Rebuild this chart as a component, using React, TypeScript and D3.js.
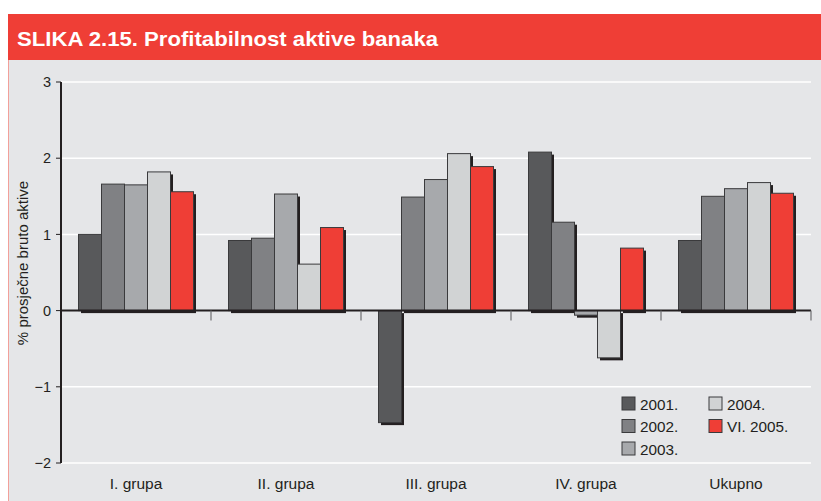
import React from "react";
import * as d3 from "d3";

const title = "SLIKA 2.15. Profitabilnost aktive banaka";
const yAxisTitle = "% prosječne bruto aktive";
const categories = ["I. grupa", "II. grupa", "III. grupa", "IV. grupa", "Ukupno"];
const seriesNames = ["2001.", "2002.", "2003.", "2004.", "VI. 2005."];
const v2001 = [1.0, 0.92, -1.47, 2.08, 0.92];
const v2002 = [1.66, 0.95, 1.49, 1.16, 1.5];
const v2003 = [1.65, 1.53, 1.72, -0.06, 1.6];
const v2004 = [1.82, 0.61, 2.06, -0.62, 1.68];
const v2005 = [1.56, 1.09, 1.89, 0.82, 1.54];
const yTicks = [3, 2, 1, 0, -1, -2];

const seriesValues = [v2001, v2002, v2003, v2004, v2005];
const colors = ["#58595b", "#808184", "#a7a9ac", "#d1d3d4", "#ef3e36"];

export default function App() {
  const W = 821, H = 501;
  const plotLeft = 61, plotRight = 811;
  const y = d3.scaleLinear().domain([-2, 3]).range([463, 82]);
  const x0 = d3.scaleBand().domain(categories).range([plotLeft, plotRight]).paddingInner(0).paddingOuter(0);
  const barW = 23;
  const groupInner = barW * seriesNames.length;
  const x1 = d3.scaleBand().domain(seriesNames).range([0, groupInner]);
  const fmt = (t: number) => (t < 0 ? "\u2212" + Math.abs(t) : String(t));
  const font = "'Liberation Sans', Arial, Helvetica, sans-serif";
  const y0 = y(0);

  const legendItems = [
    { i: 0, x: 622, y: 397 },
    { i: 1, x: 622, y: 419.5 },
    { i: 2, x: 622, y: 442 },
    { i: 3, x: 709, y: 397 },
    { i: 4, x: 709, y: 419.5 },
  ];

  return (
    <svg width={W} height={H} style={{ position: "absolute", left: 0, top: 0 }} fontFamily={font}>
      <rect x={0} y={0} width={W} height={H} fill="#ffffff" />
      {/* header */}
      <rect x={8} y={14} width={W - 8} height={46} fill="#ef3e36" />
      <text x={17} y={46} fill="#ffffff" fontSize={21} fontWeight="bold" textLength={421} lengthAdjust="spacingAndGlyphs">
        {title}
      </text>
      {/* panel */}
      <rect x={8} y={60} width={W - 8} height={H - 60} fill="#e5e6e8" />
      <line x1={8.5} x2={8.5} y1={60} y2={H} stroke="#f2a09a" strokeWidth={1} />

      {/* gridlines */}
      {yTicks.filter((t) => t !== 0).map((t) => (
        <line key={"g" + t} x1={plotLeft} x2={plotRight} y1={y(t)} y2={y(t)} stroke="#ffffff" strokeWidth={1.5} />
      ))}

      {/* y ticks & labels */}
      {yTicks.map((t) => (
        <g key={"t" + t}>
          <line x1={56} x2={plotLeft} y1={y(t)} y2={y(t)} stroke="#231f20" strokeWidth={1} />
          <text x={51} y={y(t)} dy="0.36em" textAnchor="end" fontSize={14.5} fill="#231f20">
            {fmt(t)}
          </text>
        </g>
      ))}

      {/* bars */}
      {categories.map((c, ci) => {
        const gx = (x0(c) as number) + (x0.bandwidth() - groupInner) / 2;
        return (
          <g key={c}>
            {seriesNames.map((s, si) => {
              const v = seriesValues[si][ci];
              const bx = gx + (x1(s) as number);
              const top = Math.min(y(v), y0);
              const h = Math.abs(y(v) - y0);
              return (
                <rect key={"sh" + s} x={bx + 2.5} y={top + 2.5} width={barW} height={h} fill="#231f20" />
              );
            })}
            {seriesNames.map((s, si) => {
              const v = seriesValues[si][ci];
              const bx = gx + (x1(s) as number);
              const top = Math.min(y(v), y0);
              const h = Math.abs(y(v) - y0);
              return (
                <rect key={"b" + s} x={bx} y={top} width={barW} height={h} fill={colors[si]} stroke="#3a3a3c" strokeWidth={1} />
              );
            })}
          </g>
        );
      })}

      {/* zero line */}
      <line x1={plotLeft} x2={plotRight} y1={y0} y2={y0} stroke="#231f20" strokeWidth={2} />
      {/* group ticks */}
      {categories.slice(1).map((c) => (
        <line key={"gt" + c} x1={x0(c) as number} x2={x0(c) as number} y1={y0} y2={y0 + 10} stroke="#6d6e71" strokeWidth={1.2} />
      ))}
      <line x1={plotRight} x2={plotRight} y1={y0} y2={y0 + 10} stroke="#6d6e71" strokeWidth={1.2} />

      {/* y axis */}
      <line x1={plotLeft} x2={plotLeft} y1={y(3)} y2={y(-2)} stroke="#231f20" strokeWidth={2} />

      {/* x labels */}
      {categories.map((c) => (
        <text key={"xl" + c} x={(x0(c) as number) + x0.bandwidth() / 2} y={489} textAnchor="middle" fontSize={15.5} fill="#231f20">
          {c}
        </text>
      ))}

      {/* y axis title */}
      <text transform={`translate(28, ${263}) rotate(-90)`} textAnchor="middle" fontSize={15} fill="#231f20">
        {yAxisTitle}
      </text>

      {/* legend */}
      {legendItems.map((it) => (
        <g key={"l" + it.i}>
          <rect x={it.x} y={it.y} width={13} height={13} fill={colors[it.i]} stroke="#3a3a3c" strokeWidth={1} />
          <text x={it.x + 18} y={it.y + 12.5} fontSize={15.3} fill="#231f20">
            {seriesNames[it.i]}
          </text>
        </g>
      ))}
    </svg>
  );
}
